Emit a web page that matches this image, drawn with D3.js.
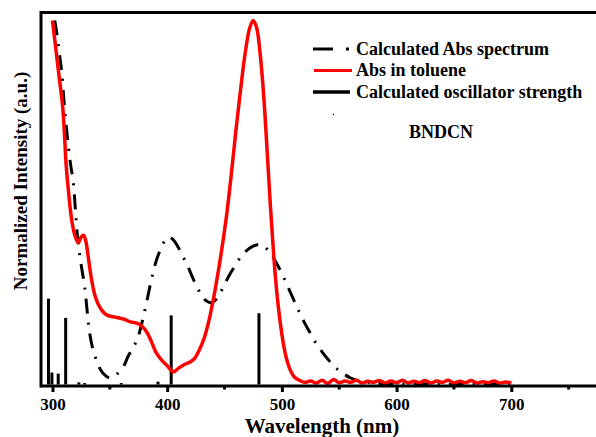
<!DOCTYPE html>
<html>
<head>
<meta charset="utf-8">
<script src="https://cdn.jsdelivr.net/npm/d3@7"></script>
<style>
  html, body { margin: 0; padding: 0; background: #fff; }
  svg { display: block; }
</style>
</head>
<body>
<div id="chart"></div>
<script>
// Abs in toluene (nm, normalized)
const absWl = [300,303,306,309,312,314,316,318,320,322.5,325,327,329,331,334,337,340,344,348,355,362,368,374,378,382,386,390,395,400,404,406,410,415,420,424,428,432,436,440,444,448,452,456,460,464,468,472,475,478,481,484,487,490,493,496,499,502,505,508,511,
  515,520,525,530,535,540,545,550,555,560,565,570,575,580,585,590,595,600,605,610,615,620,625,630,635,640,645,650,655,660,665,670,675,680,685,690,695,700];
const absVal = [1.0,0.92,0.84,0.76,0.60,0.53,0.47,0.43,0.405,0.39,0.405,0.41,0.395,0.355,0.29,0.245,0.22,0.20,0.19,0.185,0.18,0.172,0.168,0.16,0.145,0.12,0.09,0.068,0.052,0.037,0.035,0.045,0.055,0.062,0.072,0.095,0.125,0.17,0.23,0.30,0.38,0.47,0.58,0.70,0.81,0.91,0.98,1.0,0.98,0.91,0.80,0.65,0.49,0.35,0.24,0.16,0.10,0.06,0.035,0.02,
  0.012,0.006,0.010,0.004,0.012,0.003,0.014,0.005,0.010,0.006,0.012,0.004,0.009,0.006,0.011,0.004,0.010,0.005,0.012,0.004,0.009,0.005,0.011,0.004,0.010,0.006,0.012,0.004,0.009,0.005,0.011,0.004,0.008,0.005,0.010,0.004,0.007,0.004];

// Calculated Abs spectrum
const calcWl = [302,304,306,308,310,312,314,316,318,320,322,324,326,328,330,332,335,338,342,346,350,354,358,362,366,370,374,378,382,386,390,394,398,402,406,410,414,418,422,426,430,434,438,442,446,450,455,460,465,470,475,480,485,490,495,500,505,510,515,520,525,530,535,540,545,550,555,560,565,570,580,600,650,700];
const calcVal = [1.0,0.96,0.91,0.86,0.78,0.71,0.65,0.60,0.56,0.48,0.40,0.35,0.31,0.27,0.21,0.15,0.10,0.07,0.04,0.025,0.018,0.022,0.035,0.05,0.078,0.10,0.125,0.17,0.225,0.285,0.335,0.37,0.395,0.405,0.395,0.375,0.35,0.325,0.295,0.268,0.245,0.23,0.225,0.232,0.25,0.275,0.305,0.33,0.355,0.37,0.38,0.385,0.378,0.36,0.335,0.305,0.27,0.235,0.20,0.168,0.14,0.112,0.09,0.07,0.052,0.038,0.027,0.018,0.012,0.008,0.004,0.002,0.001,0.0];

// Calculated oscillator strength
const oscWl = [296.5,299.5,305,311.5,323,328,360,392,403.5,480];
const oscVal = [0.236,0.033,0.03,0.183,0.006,0.004,0.004,0.008,0.19,0.196];

const xTicks = [300,400,500,600,700];
const xMinor = [350,450,550,650,750];

const legendLabels = ["Calculated Abs spectrum","Abs in toluene","Calculated oscillator strength"];

const W = 596, H = 437;
const font = "'Liberation Serif','Times New Roman',serif";

const svg = d3.select("#chart").append("svg")
  .attr("width", W).attr("height", H);

const x = d3.scaleLinear().domain([290, 800]).range([41, 626]);
const y = d3.scaleLinear().domain([-0.004, 1.022]).range([386, 12.5]);

const line = d3.line()
  .x(d => x(d[0])).y(d => y(d[1]))
  .curve(d3.curveCatmullRom.alpha(0.5));

// oscillator bars
svg.selectAll(".osc").data(d3.zip(oscWl, oscVal)).enter()
  .append("line")
  .attr("x1", d => x(d[0])).attr("x2", d => x(d[0]))
  .attr("y1", y(0)).attr("y2", d => y(d[1]))
  .attr("stroke", "#000").attr("stroke-width", 3);

// calculated spectrum
svg.append("path")
  .datum(d3.zip(calcWl, calcVal))
  .attr("d", line)
  .attr("fill", "none").attr("stroke", "#000")
  .attr("stroke-width", 3)
  .attr("stroke-dasharray", "15,9,2,9");

// toluene abs
svg.append("path")
  .datum(d3.zip(absWl, absVal))
  .attr("d", line)
  .attr("fill", "none").attr("stroke", "#ff0000")
  .attr("stroke-width", 3.5)
  .attr("stroke-linejoin", "round");

// frame
svg.append("line").attr("x1", 41).attr("x2", W).attr("y1", 12.5).attr("y2", 12.5)
  .attr("stroke", "#000").attr("stroke-width", 3);
svg.append("line").attr("x1", 41).attr("x2", 41).attr("y1", 11).attr("y2", 387.5)
  .attr("stroke", "#000").attr("stroke-width", 3);

// x axis
const xAxis = d3.axisBottom(x).tickValues(xTicks).tickSize(6).tickPadding(6);
const gx = svg.append("g").attr("transform", "translate(0,386)").call(xAxis);
gx.select(".domain").attr("stroke-width", 3).attr("d", `M41,0H${W + 40}`);
gx.selectAll(".tick line").attr("stroke-width", 3);
gx.selectAll(".tick text")
  .style("font-family", font).style("font-size", "17px").style("font-weight", "bold")
  .attr("fill", "#000");
gx.selectAll(".minor").data(xMinor).enter().append("line")
  .attr("x1", d => x(d)).attr("x2", d => x(d))
  .attr("y1", 0).attr("y2", 3.5)
  .attr("stroke", "#000").attr("stroke-width", 3);

// axis titles
svg.append("text")
  .attr("x", 322).attr("y", 433)
  .attr("text-anchor", "middle")
  .style("font-family", font).style("font-size", "21px").style("font-weight", "bold")
  .text("Wavelength (nm)");

svg.append("text")
  .attr("transform", "translate(27,181) rotate(-90)")
  .attr("text-anchor", "middle")
  .style("font-family", font).style("font-size", "19px").style("font-weight", "bold")
  .text("Normalized Intensity (a.u.)");

// legend
const legY = [49, 70.5, 92];
const lg = svg.append("g");
lg.append("line").attr("x1", 313).attr("x2", 333).attr("y1", legY[0]).attr("y2", legY[0])
  .attr("stroke", "#000").attr("stroke-width", 3);
lg.append("line").attr("x1", 346).attr("x2", 349).attr("y1", legY[0]).attr("y2", legY[0])
  .attr("stroke", "#000").attr("stroke-width", 3);
lg.append("line").attr("x1", 314).attr("x2", 352).attr("y1", legY[1]).attr("y2", legY[1])
  .attr("stroke", "#ff0000").attr("stroke-width", 3);
lg.append("line").attr("x1", 313).attr("x2", 350).attr("y1", legY[2]).attr("y2", legY[2])
  .attr("stroke", "#000").attr("stroke-width", 3.5);
lg.selectAll("text").data(legendLabels).enter().append("text")
  .attr("x", 356).attr("y", (d, i) => legY[i] + 5.5)
  .style("font-family", font).style("font-size", "18px").style("font-weight", "bold")
  .text(d => d);

svg.append("circle").attr("cx", 333.5).attr("cy", 114.5).attr("r", 0.7).attr("fill", "#000");

svg.append("text")
  .attr("x", 441).attr("y", 138)
  .attr("text-anchor", "middle")
  .style("font-family", font).style("font-size", "18px").style("font-weight", "bold")
  .text("BNDCN");
</script>
</body>
</html>
